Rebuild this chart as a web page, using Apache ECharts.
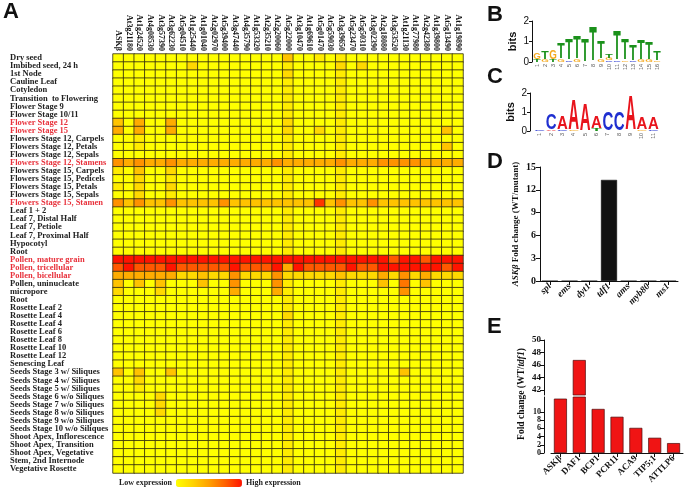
<!DOCTYPE html>
<html><head><meta charset="utf-8">
<script src="https://cdn.jsdelivr.net/npm/echarts@6/dist/echarts.min.js"></script>
<style>html,body{margin:0;padding:0;background:#fff}#c{width:691px;height:494px}</style>
</head><body><div id="c"></div>
<script>
// ---------------- DATA ----------------
const geneCols = ['ASKβ','At3g21180','At1g24520','At4g08530','At3g57390','At3g62230','At5g04510','At1g25440','At1g01040','At2g02970','At5g39400','At3g47440','At4g35790','At1g53320','At2g35210','At2g20060','At5g22000','At3g10470','At1g69610','At5g01470','At5g59030','At3g39650','At5g23470','At5g50310','At3g02390','At2g18080','At3g53520','At1g21130','At1g77980','At2g42380','At1g39800','At5g13490','At1g19890'];
const tissueRows = ['Dry seed','Imbibed seed, 24 h','1st Node','Cauline Leaf','Cotyledon','Transition  to Flowering','Flower Stage 9','Flower Stage 10/11','Flower Stage 12','Flower Stage 15','Flowers Stage 12, Carpels','Flowers Stage 12, Petals','Flowers Stage 12, Sepals','Flowers Stage 12, Stamens','Flowers Stage 15, Carpels','Flowers Stage 15, Pedicels','Flowers Stage 15, Petals','Flowers Stage 15, Sepals','Flowers Stage 15, Stamen','Leaf 1 + 2','Leaf 7, Distal Half','Leaf 7, Petiole','Leaf 7, Proximal Half','Hypocotyl','Root','Pollen, mature grain','Pollen, tricellular','Pollen, bicellular','Pollen, uninucleate','micropore','Root','Rosette Leaf 2','Rosette Leaf 4','Rosette Leaf 4','Rosette Leaf 6','Rosette Leaf 8','Rosette Leaf 10','Rosette Leaf 12','Senescing Leaf','Seeds Stage 3 w/ Siliques','Seeds Stage 4 w/ Siliques','Seeds Stage 5 w/ Siliques','Seeds Stage 6 w/o Siliques','Seeds Stage 7 w/o Siliques','Seeds Stage 8 w/o Siliques','Seeds Stage 9 w/o Siliques','Seeds Stage 10 w/o Siliques','Shoot Apex, Inflorescence','Shoot Apex, Transition','Shoot Apex, Vegetative','Stem, 2nd Internode','Vegetative Rosette'];
const redRows = [8,9,13,18,25,26,27];
// expression level per cell (0 = low ... 9 = high), 33 columns per row
const heatRows = [
"00000000000 00000300101 00000000000",
"00000002000 00000100002 02000000000",
"00000000000 00000200001 00000000000",
"00000000000 00000100001 00000000000",
"00000000000 00000100001 00000000000",
"00000000000 00000100001 00000000000",
"00000000000 00000100001 00000000000",
"00000000000 00000100001 00000000000",
"30400400000 00000200001 00000000000",
"40400400000 00000200201 00000000030",
"00100000000 00000100001 00000000000",
"00100000000 00000100001 00000000030",
"00000000000 00000100001 00000000000",
"54544544444 44445444445 44455554444",
"10300200000 00000100001 00000000000",
"00200100000 00000100001 00000000000",
"10200200000 00000100001 00000000000",
"00200100000 00000100001 00000000000",
"53533533335 33333333835 33533333333",
"00000000000 00000100001 00000000000",
"00000000000 00000100001 00000000000",
"00000000000 00000100001 00000000000",
"00000000000 00000100001 00000000000",
"00000000000 00000100001 00000000000",
"00000000000 00000100001 00000000000",
"99999999999 99999999999 99997997999",
"79777977777 97779497777 97799999979",
"44444422322 52225222223 22242524222",
"30303000300 50005100001 00030603000",
"20002000000 40004100001 00000500000",
"00000000000 00000100001 00000000000",
"00000000000 00000100001 00000000000",
"00000000000 00000200001 00000000000",
"00000000000 00000100001 00000000000",
"00000000000 00000100001 00000000000",
"00000000000 00000100001 00000000000",
"00000000000 00000100001 00000000000",
"00000000000 00000100001 00000000000",
"00000000000 00000100001 00000000000",
"30300300000 00000100001 00000300000",
"00200000000 00000100001 00000000000",
"00100000000 00000100001 00000000000",
"00002000000 00000100001 00000000000",
"00002000000 00000100001 00000000000",
"00002000000 00000100001 00000000000",
"00000000000 00000100001 00000000000",
"00000000000 00000100001 00000000000",
"00000000000 00000100001 00000000000",
"00000000000 00000100001 00000000000",
"00000000000 00000100001 00000000000",
"00000000000 00000100001 00000000000",
"00000000000 00000100001 00000000000"
];
const legendText = ['High expression','Low expression'];

// sequence logos: per position, letters stacked bottom->top with height in bits
const logoBPos = ['1','2','3','4','5','6','7','8','9','10','11','12','13','14','15','16'];
const logoB = [
 [['T',0.12],['G',0.35]],
 [['G',0.12],['T',0.4]],
 [['T',0.12],['G',0.45]],
 [['G',0.15],['T',0.75]],
 [['C',0.08],['T',1.05]],
 [['G',0.12],['T',1.1]],
 [['T',1.08]],
 [['T',1.68]],
 [['G',0.15],['T',0.82]],
 [['C',0.08],['G',0.12],['T',0.2]],
 [['C',0.08],['T',1.44]],
 [['G',0.08],['T',1.05]],
 [['C',0.08],['T',0.8]],
 [['G',0.12],['T',1.0]],
 [['G',0.12],['T',0.85]],
 [['G',0.08],['T',0.47]]
];
const logoCPos = ['1','2','3','4','5','6','7','8','9','10','11'];
const logoC = [
 [['C',0.05]],
 [['A',0.08],['C',0.85]],
 [['C',0.05],['A',0.7]],
 [['G',0.05],['A',1.58]],
 [['A',1.37]],
 [['T',0.12],['A',0.62]],
 [['C',1.0]],
 [['C',1.0]],
 [['A',1.79]],
 [['G',0.08],['A',0.6]],
 [['C',0.06],['A',0.6]]
];

const dCats = ['spl','ems','dyt1','tdf1','ams','myb80','ms1'];
const dValues = [0,0,0,13.3,0,0,0];

const eCats = ['ASKβ','DAF1','BCP1','PCR11','ACA9','TIP5;1','ATTLP6'];
const eValues = [13.2,46.8,10.7,8.8,6.1,3.7,2.4];
const eUpperTicks = [42,44,46,48,50];
const eLowerTicks = [0,2,4,6,8,10];

// ---------------- CHART ----------------
const SERIF = '"Liberation Serif", "Times New Roman", serif';
const SANS = '"Liberation Sans", Arial, sans-serif';
const heatData = [];
heatRows.forEach((row, r) => {
  const s = row.replace(/\s/g, '');
  for (let c = 0; c < geneCols.length; c++) heatData.push([c, r, Number(s[c] || 0)]);
});
const letterColor = {A:'#e8141c', C:'#1f2fd0', G:'#f4a81c', T:'#1b911b'};
const letterW = {A:0.72, C:0.72, G:0.78, T:0.62};
function logoData(stacks) {
  const out = [];
  stacks.forEach((st, i) => {
    let y = 0;
    st.forEach(([L, h]) => { out.push([i, y, y + h, 'ACGT'.indexOf(L)]); y += h; });
  });
  return out;
}
function renderLetter(params, api) {
  const x = api.value(0), y0 = api.value(1), y1 = api.value(2), li = api.value(3);
  const p0 = api.coord([x, y0]), p1 = api.coord([x, y1]);
  const w = api.size([1, 0])[0] * 0.95;
  const h = p0[1] - p1[1];
  if (h < 0.4) return null;
  const L = 'ACGT'[li];
  const F = 20;
  const sx = w / (letterW[L] * F), sy = h / (0.72 * F);
  return {
    type: 'text', x: p0[0], y: (p0[1] + p1[1]) / 2 + 0.05 * F * sy, scaleX: sx, scaleY: sy,
    style: {text: L, fontSize: F, fontWeight: 'bold', fontFamily: SANS, fill: letterColor[L], align: 'center', verticalAlign: 'middle'}
  };
}
const axBlack = {lineStyle: {color: '#111', width: 1}};
const logoX = (idx, data) => ({type: 'category', gridIndex: idx, data,
  axisLine: {show: false}, axisTick: {show: false},
  axisLabel: {interval: 0, rotate: 90, fontSize: 5.5, margin: 2, color: '#555', fontFamily: SANS}});
const logoY = (idx, off) => ({type: 'value', gridIndex: idx, min: 0, max: 2, interval: 1, offset: off,
  axisLine: {show: true, ...axBlack}, axisTick: {show: true, length: 3, ...axBlack}, splitLine: {show: false},
  axisLabel: {fontSize: 10, margin: 3, color: '#111', fontFamily: SANS},
  name: 'bits', nameLocation: 'middle', nameGap: 14, nameRotate: 90,
  nameTextStyle: {fontSize: 11, color: '#111', fontFamily: SANS, fontWeight: 'bold'}});
const boldSerif = (sz, extra) => Object.assign({fontFamily: SERIF, fontWeight: 'bold', fontSize: sz, color: '#111'}, extra || {});

const chart = echarts.init(document.getElementById('c'), null, {renderer: 'canvas'});
chart.setOption({
  backgroundColor: '#fff',
  animation: false,
  grid: [
    {left: 113, top: 54, width: 350, height: 419, outerBoundsMode: 'none'},
    {left: 533, top: 21, width: 128, height: 41, outerBoundsMode: 'none'},
    {left: 534, top: 93, width: 125, height: 38, outerBoundsMode: 'none'},
    {left: 540, top: 167, width: 138, height: 114, outerBoundsMode: 'none'},
    {left: 551, top: 340, width: 132, height: 55, outerBoundsMode: 'none'},
    {left: 551, top: 397, width: 132, height: 56, outerBoundsMode: 'none'}
  ],
  xAxis: [
    {type: 'category', gridIndex: 0, position: 'top', data: geneCols,
     axisLine: {show: false}, axisTick: {show: false}, splitLine: {show: false},
     axisLabel: Object.assign({interval: 0, rotate: 90, margin: 3}, boldSerif(8))},
    logoX(1, logoBPos),
    logoX(2, logoCPos),
    {type: 'category', gridIndex: 3, data: dCats,
     axisLine: {show: true, ...axBlack}, axisTick: {show: true, alignWithLabel: true, length: 4, ...axBlack},
     axisLabel: Object.assign({interval: 0, rotate: 45, margin: 4}, boldSerif(9.5, {fontStyle: 'italic'}))},
    {type: 'category', gridIndex: 4, data: eCats, show: false},
    {type: 'category', gridIndex: 5, data: eCats,
     axisLine: {show: true, ...axBlack}, axisTick: {show: true, alignWithLabel: true, length: 4, ...axBlack},
     axisLabel: Object.assign({interval: 0, rotate: 45, margin: 4}, boldSerif(9))}
  ],
  yAxis: [
    {type: 'category', gridIndex: 0, inverse: true, data: tissueRows,
     axisLine: {show: false}, axisTick: {show: false}, splitLine: {show: false},
     axisLabel: Object.assign({interval: 0, align: 'left', margin: 103, color: '#222',
       formatter: (v, i) => redRows.indexOf(i) >= 0 ? '{r|' + v + '}' : v,
       rich: {r: {color: '#e8323c', fontFamily: SERIF, fontWeight: 'bold', fontSize: 8.5}}}, boldSerif(8.5, {color: '#222'}))},
    logoY(1, 1),
    logoY(2, 4),
    {type: 'value', gridIndex: 3, min: 0, max: 15, interval: 3,
     axisLine: {show: true, ...axBlack}, axisTick: {show: true, length: 4, ...axBlack}, splitLine: {show: false},
     axisLabel: Object.assign({margin: 4}, boldSerif(10)),
     name: '{i|ASKβ} Fold change (WT/mutant)', nameLocation: 'middle', nameGap: 20, nameRotate: 90,
     nameTextStyle: Object.assign({rich: {i: {fontFamily: SERIF, fontWeight: 'bold', fontStyle: 'italic', fontSize: 9, color: '#111'}}}, boldSerif(9))},
    {type: 'value', gridIndex: 4, min: 41.2, max: 50, offset: 7,
     axisLine: {show: true, ...axBlack}, axisTick: {show: true, length: 4, customValues: eUpperTicks, ...axBlack}, splitLine: {show: false},
     axisLabel: Object.assign({margin: 3, customValues: eUpperTicks, hideOverlap: false}, boldSerif(9))},
    {type: 'value', gridIndex: 5, min: 0, max: 13.6, offset: 7,
     axisLine: {show: true, ...axBlack}, axisTick: {show: true, length: 4, customValues: eLowerTicks, ...axBlack}, splitLine: {show: false},
     axisLabel: Object.assign({margin: 3, customValues: eLowerTicks, hideOverlap: false, showMaxLabel: true, showMinLabel: true}, boldSerif(8))}
  ],
  visualMap: {
    type: 'continuous', seriesIndex: 0, min: 0, max: 9, calculable: false, hoverLink: false,
    orient: 'horizontal', left: 104, top: 464, itemWidth: 8, itemHeight: 66, textGap: 4,
    text: legendText, textStyle: boldSerif(8, {color: '#222'}),
    inRange: {color: ['#ffff00', '#ffd400', '#ffa000', '#ff6000', '#ff1400']}
  },
  series: [
    {type: 'heatmap', xAxisIndex: 0, yAxisIndex: 0, data: heatData,
     itemStyle: {borderColor: '#2e2a10', borderWidth: 0.8}, emphasis: {disabled: true}},
    {type: 'custom', xAxisIndex: 1, yAxisIndex: 1, data: logoData(logoB), renderItem: renderLetter,
     encode: {x: 0, y: [1, 2]}, silent: true},
    {type: 'custom', xAxisIndex: 2, yAxisIndex: 2, data: logoData(logoC), renderItem: renderLetter,
     encode: {x: 0, y: [1, 2]}, silent: true},
    {type: 'bar', xAxisIndex: 3, yAxisIndex: 3, data: dValues, barWidth: 16,
     itemStyle: {color: '#111', borderColor: '#000', borderWidth: 0.5}},
    {type: 'bar', xAxisIndex: 4, yAxisIndex: 4, data: eValues, barWidth: 13, clip: true,
     itemStyle: {color: '#f01414', borderColor: '#4a0a0a', borderWidth: 0.7}},
    {type: 'bar', xAxisIndex: 5, yAxisIndex: 5, data: eValues, barWidth: 13, clip: true,
     itemStyle: {color: '#f01414', borderColor: '#4a0a0a', borderWidth: 0.7}}
  ],
  graphic: [
    {type: 'text', x: 3, y: 1, style: {text: 'A', fontSize: 22, fontWeight: 'bold', fontFamily: SANS, fill: '#111', verticalAlign: 'top'}},
    {type: 'text', x: 487, y: 4, style: {text: 'B', fontSize: 22, fontWeight: 'bold', fontFamily: SANS, fill: '#111', verticalAlign: 'top'}},
    {type: 'text', x: 487, y: 66, style: {text: 'C', fontSize: 22, fontWeight: 'bold', fontFamily: SANS, fill: '#111', verticalAlign: 'top'}},
    {type: 'text', x: 487, y: 151, style: {text: 'D', fontSize: 22, fontWeight: 'bold', fontFamily: SANS, fill: '#111', verticalAlign: 'top'}},
    {type: 'text', x: 487, y: 316, style: {text: 'E', fontSize: 22, fontWeight: 'bold', fontFamily: SANS, fill: '#111', verticalAlign: 'top'}},
    {type: 'text', x: 522, y: 394, rotation: Math.PI / 2,
     style: {text: 'Fold change (WT/{i|tdf1})', fontSize: 9.5, fontWeight: 'bold', fontFamily: SERIF, fill: '#111',
       align: 'center', verticalAlign: 'middle',
       rich: {i: {fontSize: 9.5, fontWeight: 'bold', fontStyle: 'italic', fontFamily: SERIF, fill: '#111'}}}}
  ]
});
</script></body></html>
